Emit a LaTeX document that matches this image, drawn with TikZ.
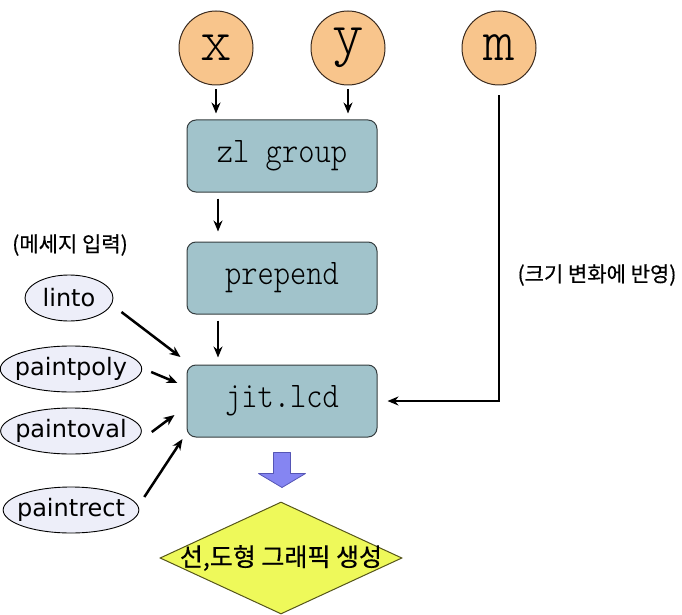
\documentclass[tikz,border=0pt]{standalone}
\usepackage{fontspec}
\setmainfont{DejaVu Sans}
\newfontfamily\krfont{Noto Sans CJK KR}[FakeBold=0.5]
\newfontfamily\lightmono{lmmonolt10-regular}[Extension=.otf]
\newfontfamily\boxmono{lmmonolt10-regular}[Extension=.otf, FakeStretch=0.86]
\usetikzlibrary{shapes.geometric,arrows.meta,calc}

\definecolor{peach}{HTML}{F8C58C}
\definecolor{peachline}{HTML}{3A2A1E}
\definecolor{boxfill}{HTML}{A1C3CB}
\definecolor{boxline}{HTML}{353D3F}
\definecolor{ovalfill}{HTML}{EDEEF9}
\definecolor{arrowfill}{HTML}{8585F2}
\definecolor{arrowline}{HTML}{5555B5}
\definecolor{diafill}{HTML}{EEF95A}
\definecolor{dialine}{HTML}{55551A}

\begin{document}
\begin{tikzpicture}[x=1pt,y=-1pt,
  varnode/.style={circle, draw=peachline, fill=peach, line width=1pt,
    minimum size=74pt, inner sep=0pt, font=\lightmono\fontsize{60}{60}\selectfont},
  objbox/.style={rectangle, rounded corners=9pt, draw=boxline, fill=boxfill,
    line width=1pt, minimum width=190pt, minimum height=72pt,
    font=\boxmono\fontsize{36}{36}\selectfont},
  msgnode/.style={ellipse, draw=black, fill=ovalfill, line width=0.9pt,
    inner xsep=-6pt, inner ysep=0pt, minimum height=46pt,
    font=\fontsize{24}{24}\selectfont},
  conn/.style={-{Stealth[length=11pt,width=9pt]}, line width=2.5pt},
  note/.style={font=\krfont\fontsize{21}{21}\selectfont},
  blockarrow/.style={fill=arrowfill, draw=arrowline, line width=0.8pt, line join=round},
  resultnode/.style={diamond, draw=dialine, fill=diafill, line width=1pt,
    aspect=2.16, minimum width=242pt, minimum height=112pt, inner sep=0pt,
    inner xsep=-10pt, font=\krfont\fontsize{25}{25}\selectfont}
]
\useasboundingbox (0,0) rectangle (682,615);

% input variables
\node[varnode] (x) at (216,48) {x};
\node[varnode] (y) at (348,48) {y};
\node[varnode] (m) at (499,48) {m};

% object chain
\node[objbox] (zl) at (282,156) {zl group};
\node[objbox] (prepend) at (282,278) {prepend};
\node[objbox] (jit) at (282,401) {jit.lcd};

% drawing messages
\node[note] (msglabel) at (70,245) {(메세지 입력)};
\node[msgnode, minimum width=88pt] (linto) at (69,298) {linto};
\node[msgnode, minimum width=134pt] (paintpoly) at (71,369) {paintpoly};
\node[msgnode, minimum width=134pt] (paintoval) at (71,431) {paintoval};
\node[msgnode, minimum width=134pt] (paintrect) at (71,510) {paintrect};

\node[note] (sizelabel) at (597,275) {(크기 변화에 반영)};

% result
\node[resultnode] (result) at (281,558) {선,도형 그래픽 생성};

% connectors
\draw[conn] ($(x.south)+(0,4)$) -- ($(x.south |- zl.north)+(0,-6)$);
\draw[conn] ($(y.south)+(0,4)$) -- ($(y.south |- zl.north)+(0,-6)$);
\draw[conn] ($(zl.south)+(-64,6)$) -- ($(prepend.north)+(-64,-10)$);
\draw[conn] ($(prepend.south)+(-64,6)$) -- ($(prepend.south)+(-64,43)$);
\draw[conn] ($(m.south)+(0,10)$) |- ($(jit.east)+(10,0)$);

\draw[conn] ($(linto.east)+(8,14)$) -- ($(jit.west)+(-6,-44)$);
\draw[conn] ($(paintpoly.east)+(9,3)$) -- ($(jit.west)+(-9,-18)$);
\draw[conn] ($(paintoval.east)+(10,1)$) -- ($(jit.west)+(-12,14)$);
\draw[conn] ($(paintrect.east)+(5,-13)$) -- ($(jit.west)+(-4,38)$);

% block arrow towards the result
\draw[blockarrow] ($(jit.south)+(-8.5,15)$) -- ++(17,0) -- ++(0,21) -- ++(15,0)
  -- ++(-23.5,14) -- ++(-23.5,-14) -- ++(15,0) -- cycle;
\end{tikzpicture}
\end{document}
